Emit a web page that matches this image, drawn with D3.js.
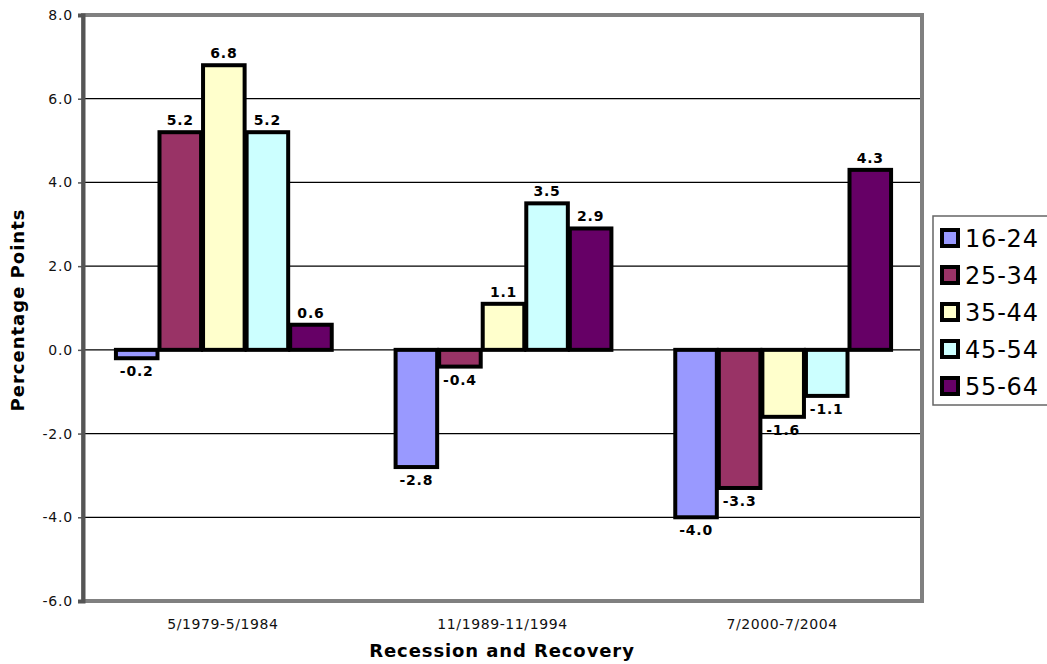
<!DOCTYPE html>
<html>
<head>
<meta charset="utf-8">
<script src="https://cdn.jsdelivr.net/npm/d3@7"></script>
<style>
  html, body { margin: 0; padding: 0; background: #fff; }
  svg { display: block; font-family: "DejaVu Sans", Verdana, sans-serif; }
</style>
</head>
<body>
<svg id="chart" width="1047" height="664"></svg>
<script>
// Change in employment share by age group across recession-and-recovery periods
const periods = ["5/1979-5/1984", "11/1989-11/1994", "7/2000-7/2004"];
const ageGroups = ["16-24", "25-34", "35-44", "45-54", "55-64"];
const values1979 = [-0.2, 5.2, 6.8, 5.2, 0.6];
const values1989 = [-2.8, -0.4, 1.1, 3.5, 2.9];
const values2000 = [-4.0, -3.3, -1.6, -1.1, 4.3];
const seriesColors = ["#9999FF", "#993366", "#FFFFCC", "#CCFFFF", "#660066"];
const yTicks = [-6, -4, -2, 0, 2, 4, 6, 8];

const periodValues = [values1979, values1989, values2000];

// one decimal, plain hyphen for negatives
const fmt = v => d3.format(".1f")(v).replace("\u2212", "-");

const svg = d3.select("#chart");
const plot = { left: 83, top: 15, right: 922, bottom: 601 };

const x0 = d3.scaleBand().domain(periods).range([plot.left, plot.right]).paddingInner(0).paddingOuter(0);
const x1 = d3.scaleBand().domain(ageGroups).range([0, x0.bandwidth()]).paddingOuter(0.71).paddingInner(0);
const y = d3.scaleLinear().domain([-6, 8]).range([plot.bottom, plot.top]);
const color = d3.scaleOrdinal().domain(ageGroups).range(seriesColors);

// Gridlines
svg.append("g")
  .selectAll("line")
  .data(yTicks.filter(t => t > -6 && t < 8))
  .join("line")
  .attr("x1", plot.left).attr("x2", plot.right)
  .attr("y1", d => y(d)).attr("y2", d => y(d))
  .attr("stroke", "#000").attr("stroke-width", 1.2);

// Plot frame
svg.append("rect")
  .attr("x", plot.left).attr("y", plot.top)
  .attr("width", plot.right - plot.left).attr("height", plot.bottom - plot.top)
  .attr("fill", "none").attr("stroke", "#808080").attr("stroke-width", 4);

// Y axis
const yAxis = svg.append("g")
  .attr("transform", `translate(${plot.left},0)`)
  .call(d3.axisLeft(y).tickValues(yTicks).tickFormat(fmt).tickSize(5).tickPadding(5));
yAxis.select(".domain").attr("stroke", "#555").attr("stroke-width", 4);
yAxis.selectAll(".tick line").attr("stroke", "#555").attr("stroke-width", 1.5);
yAxis.selectAll(".tick text").attr("font-size", 14).attr("fill", "#111")
  .attr("letter-spacing", 0.8)
  .attr("font-family", "DejaVu Sans, Verdana, sans-serif");

// X category labels
svg.append("g")
  .selectAll("text")
  .data(periods)
  .join("text")
  .attr("x", d => x0(d) + x0.bandwidth() / 2)
  .attr("y", 629)
  .attr("text-anchor", "middle")
  .attr("font-size", 14)
  .attr("letter-spacing", 0.6)
  .attr("fill", "#111")
  .text(d => d);

// Bars
const rows = periods.map((p, i) => ({ period: p, vals: ageGroups.map((g, j) => ({ group: g, value: periodValues[i][j] })) }));
const groups = svg.append("g").selectAll("g")
  .data(rows)
  .join("g")
  .attr("transform", d => `translate(${x0(d.period)},0)`);

groups.selectAll("rect")
  .data(d => d.vals)
  .join("rect")
  .attr("x", d => x1(d.group) + 2)
  .attr("width", x1.bandwidth() - 2)
  .attr("y", d => y(Math.max(0, d.value)))
  .attr("height", d => Math.abs(y(d.value) - y(0)))
  .attr("fill", d => color(d.group))
  .attr("stroke", "#000")
  .attr("stroke-width", 4);

// Value labels
groups.selectAll("text")
  .data(d => d.vals)
  .join("text")
  .attr("x", d => x1(d.group) + 1 + x1.bandwidth() / 2)
  .attr("y", d => d.value >= 0 ? y(d.value) - 7 : y(d.value) + 18)
  .attr("text-anchor", "middle")
  .attr("font-size", 14)
  .attr("letter-spacing", 0.8)
  .attr("font-weight", "bold")
  .attr("fill", "#000")
  .text(d => fmt(d.value));

// Axis titles
svg.append("text")
  .attr("transform", "translate(24,310) rotate(-90)")
  .attr("text-anchor", "middle")
  .attr("font-size", 18)
  .attr("letter-spacing", 1)
  .attr("font-weight", "bold")
  .text("Percentage Points");

svg.append("text")
  .attr("x", 502).attr("y", 657)
  .attr("text-anchor", "middle")
  .attr("font-size", 18)
  .attr("letter-spacing", 0.9)
  .attr("font-weight", "bold")
  .text("Recession and Recovery");

// Legend
const legend = svg.append("g");
legend.append("rect")
  .attr("x", 933).attr("y", 216).attr("width", 130).attr("height", 189)
  .attr("fill", "#fff").attr("stroke", "#666").attr("stroke-width", 1.5);
const legendItems = legend.selectAll("g")
  .data(ageGroups)
  .join("g")
  .attr("transform", (d, i) => `translate(0,${239 + i * 37})`);
legendItems.append("rect")
  .attr("x", 942).attr("y", -9).attr("width", 16).attr("height", 16)
  .attr("fill", d => color(d)).attr("stroke", "#000").attr("stroke-width", 4);
legendItems.append("text")
  .attr("x", 965).attr("y", 8)
  .attr("font-size", 24)
  .attr("letter-spacing", 0.8)
  .attr("fill", "#000")
  .text(d => d);
</script>
</body>
</html>
